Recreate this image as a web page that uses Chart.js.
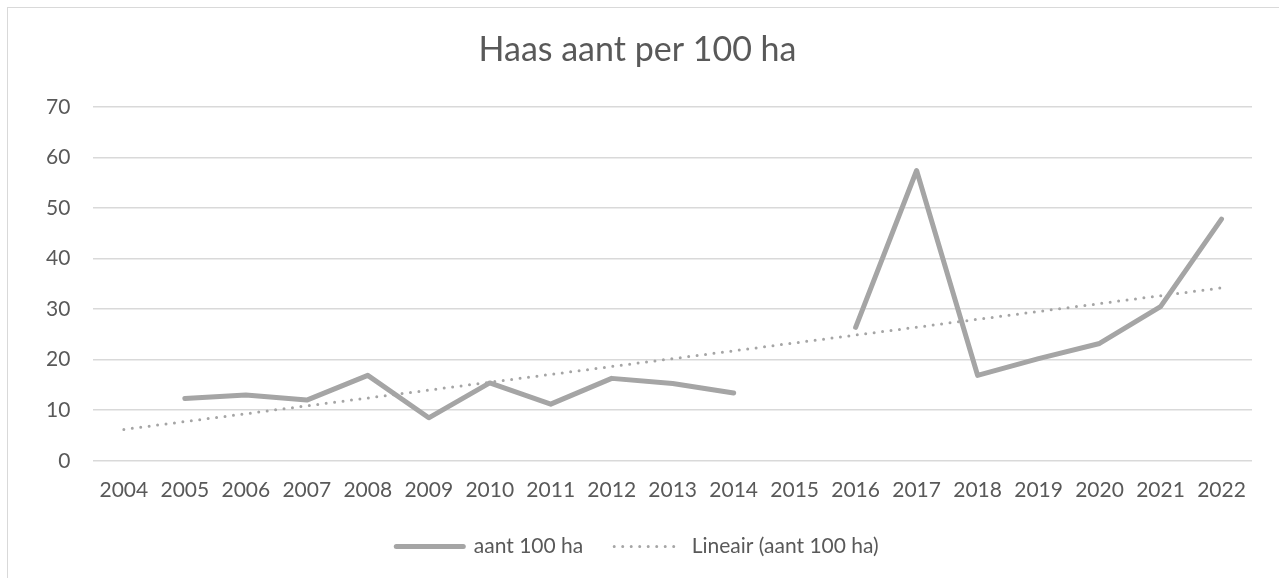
<!DOCTYPE html>
<html>
<head>
<meta charset="utf-8">
<script src="https://cdn.jsdelivr.net/npm/chart.js@4/dist/chart.umd.min.js"></script>
<style>
  html, body { margin: 0; padding: 0; background: #fff; overflow: hidden; }
  #frame { position: absolute; left: 7px; top: 7px; width: 1290px; height: 600px; border: 1px solid #d9d9d9; }
  #wrap { position: absolute; left: 0; top: 0; width: 1279px; height: 578px; }
</style>
</head>
<body>
<div id="frame"></div>
<div id="wrap"><canvas id="haasChart"></canvas></div>
<script>
// jaren en waarden
const years = ['2004','2005','2006','2007','2008','2009','2010','2011','2012','2013','2014','2015','2016','2017','2018','2019','2020','2021','2022'];
const aant100ha = [null, 12.3, 13.0, 12.0, 16.9, 8.5, 15.4, 11.2, 16.3, 15.3, 13.4, null, 26.4, 57.4, 16.9, 20.2, 23.2, 30.5, 47.8];
// trendlijn: begin- en eindwaarde
const lineair = [6.2, null, null, null, null, null, null, null, null, null, null, null, null, null, null, null, null, null, 34.2];
const yTicks = [0, 10, 20, 30, 40, 50, 60, 70];

const grey = '#a5a5a5';
const textGrey = '#595959';
Chart.defaults.font.family = 'Lato, "Open Sans", sans-serif';
Chart.defaults.color = textGrey;

new Chart(document.getElementById('haasChart'), {
  type: 'line',
  data: {
    labels: years,
    datasets: [{
      label: 'aant 100 ha',
      data: aant100ha,
      borderColor: grey,
      backgroundColor: grey,
      borderWidth: 5,
      pointRadius: 0,
      borderCapStyle: 'round',
      borderJoinStyle: 'round',
      spanGaps: false,
      tension: 0
    }, {
      label: 'Lineair (aant 100 ha)',
      data: lineair,
      borderColor: grey,
      backgroundColor: grey,
      borderWidth: 3,
      borderDash: [0, 8.5],
      borderCapStyle: 'round',
      pointRadius: 0,
      spanGaps: true,
      tension: 0
    }]
  },
  options: {
    responsive: true,
    maintainAspectRatio: false,
    animation: false,
    layout: { padding: { left: 23, right: 27, top: 0, bottom: 11 } },
    plugins: {
      title: {
        display: true,
        text: 'Haas aant per 100 ha',
        color: textGrey,
        font: { size: 34, weight: 'normal' },
        padding: { top: 30, bottom: 36 }
      },
      legend: {
        position: 'bottom',
        labels: {
          usePointStyle: true,
          pointStyle: 'line',
          pointStyleWidth: 67,
          padding: 31,
          color: textGrey,
          font: { size: 21 },
          generateLabels: chart => Chart.defaults.plugins.legend.labels.generateLabels(chart).map((item, i) => {
            const ds = chart.data.datasets[i];
            return { ...item, pointStyle: 'line', strokeStyle: ds.borderColor, lineWidth: ds.borderWidth, lineDash: ds.borderDash || [], lineCap: ds.borderCapStyle };
          })
        }
      },
      tooltip: { enabled: false }
    },
    scales: {
      x: {
        offset: true,
        grid: { display: false, drawTicks: false },
        border: { display: false },
        ticks: { color: textGrey, font: { size: 21 }, padding: 17, maxRotation: 0, autoSkip: false },
        afterFit: axis => { axis.height -= 15; }
      },
      y: {
        min: 0,
        max: 70,
        afterBuildTicks: axis => { axis.ticks = yTicks.map(v => ({ value: v })); },
        grid: { color: '#d9d9d9', lineWidth: 1.5, drawTicks: false },
        border: { display: false },
        ticks: { color: textGrey, font: { size: 21 }, padding: 23 }
      }
    }
  }
});
</script>
</body>
</html>
